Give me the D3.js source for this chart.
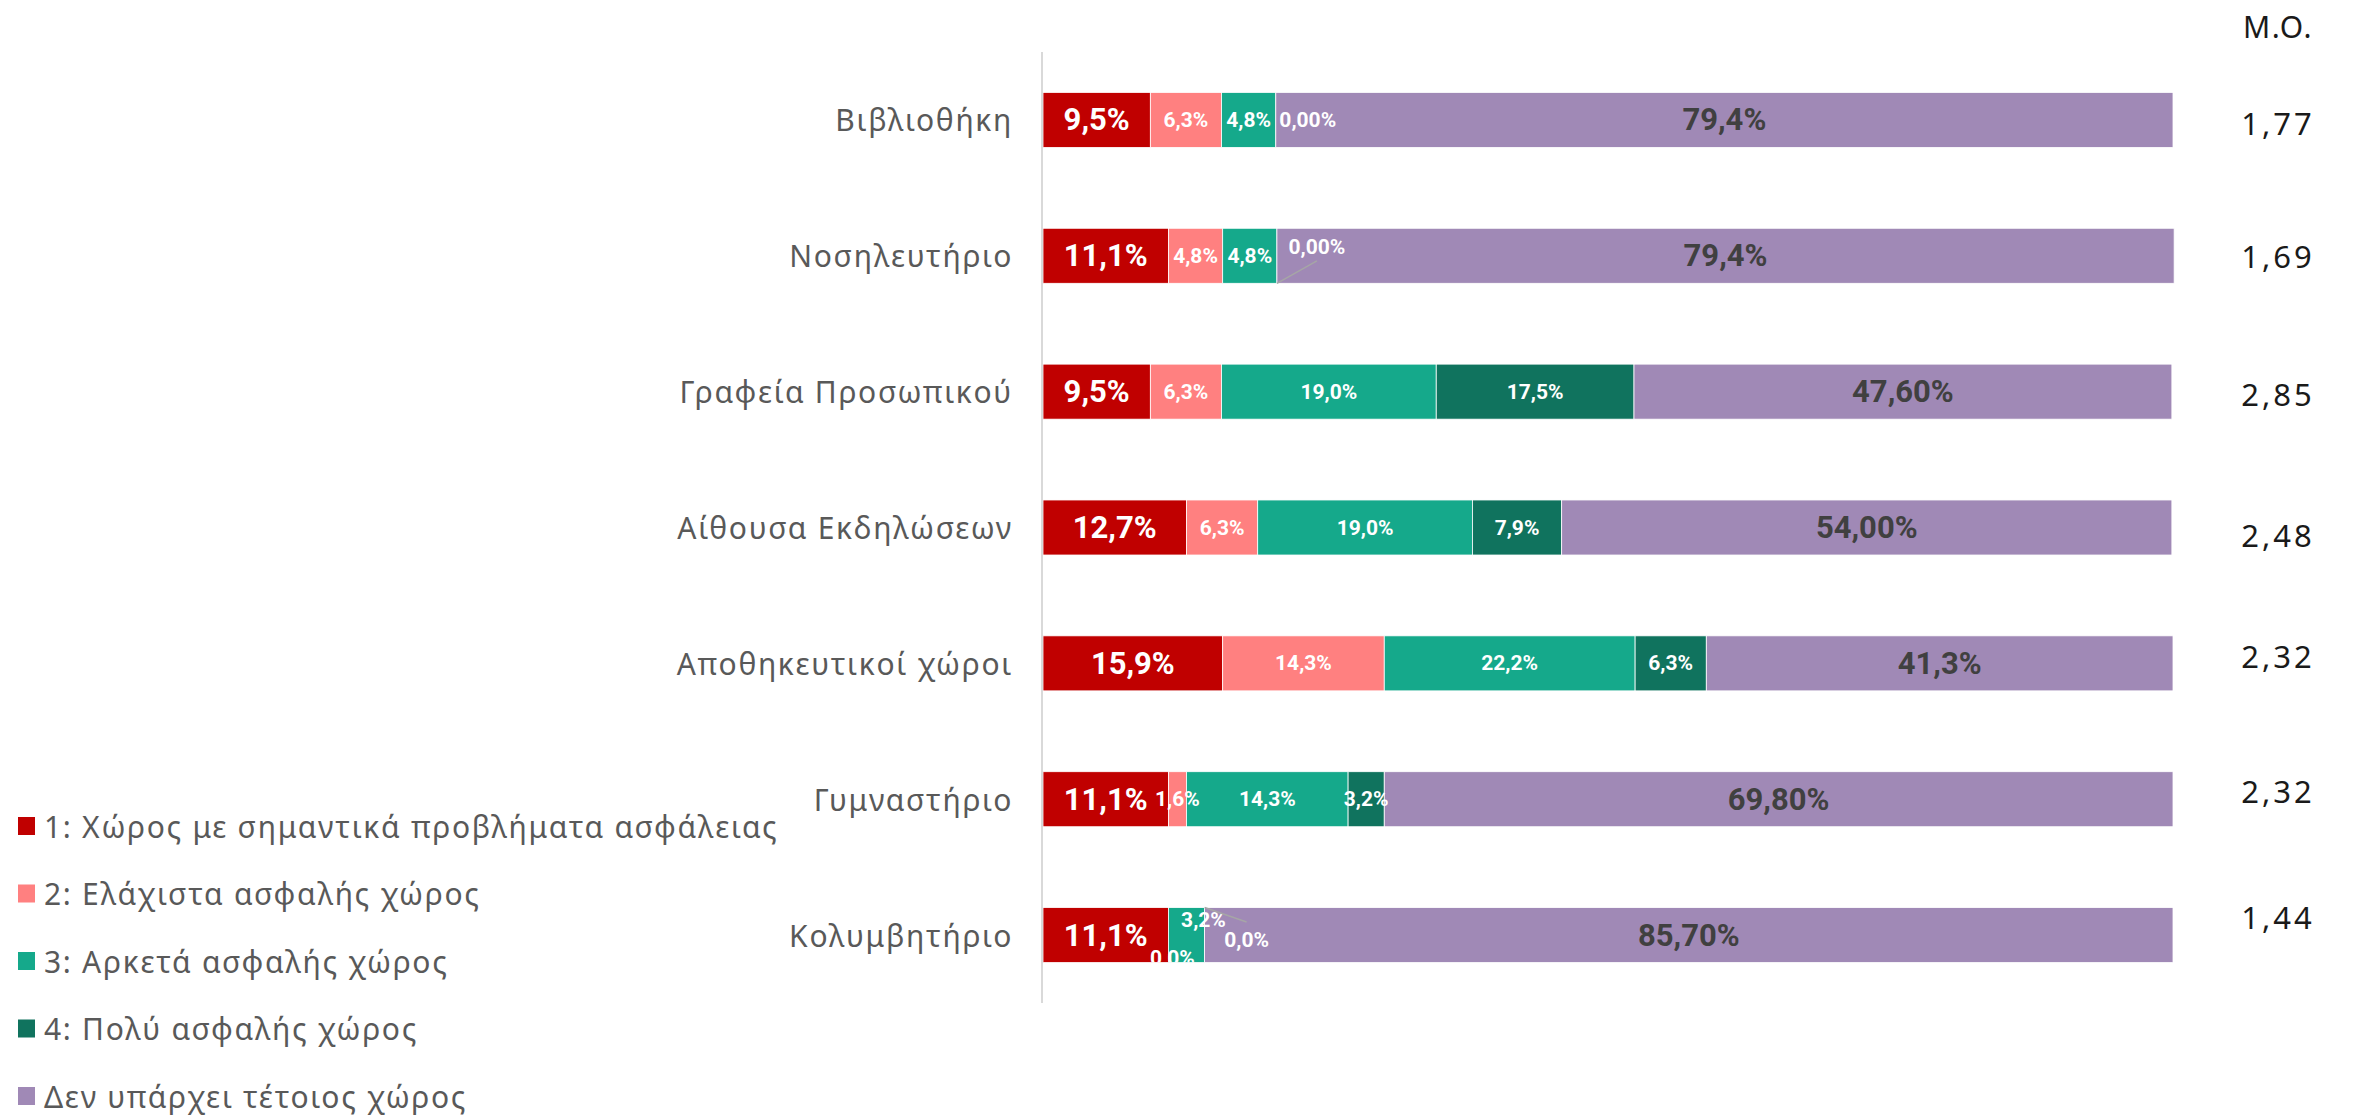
<!DOCTYPE html>
<html>
<head>
<meta charset="utf-8">
<script src="https://cdn.jsdelivr.net/npm/d3@7"></script>
<style>
  body { margin: 0; background: #fff; }
  svg { display: block; }
</style>
</head>
<body>
<svg id="chart" width="2358" height="1118"></svg>
<script>
// categories (top to bottom)
const categories = ['Βιβλιοθήκη', 'Νοσηλευτήριο', 'Γραφεία Προσωπικού', 'Αίθουσα Εκδηλώσεων',
                    'Αποθηκευτικοί χώροι', 'Γυμναστήριο', 'Κολυμβητήριο'];

const seriesNames = ['1: Χώρος με σημαντικά προβλήματα ασφάλειας', '2: Ελάχιστα ασφαλής χώρος',
                     '3: Αρκετά ασφαλής χώρος', '4: Πολύ ασφαλής χώρος', 'Δεν υπάρχει τέτοιος χώρος'];
const seriesColors = ['#c00000', '#ff8080', '#15a98b', '#10735e', '#a089b6'];

// percentages per series
const s1 = [9.5, 11.1, 9.5, 12.7, 15.9, 11.1, 11.1];
const s2 = [6.3, 4.8, 6.3, 6.3, 14.3, 1.6, 0];
const s3 = [4.8, 4.8, 19.0, 19.0, 22.2, 14.3, 3.2];
const s4 = [0, 0, 17.5, 7.9, 6.3, 3.2, 0];
const s5 = [79.4, 79.4, 47.6, 54.0, 41.3, 69.8, 85.7];

// data label texts as printed
const l1 = ['9,5%', '11,1%', '9,5%', '12,7%', '15,9%', '11,1%', '11,1%'];
const l2 = ['6,3%', '4,8%', '6,3%', '6,3%', '14,3%', '1,6%', '0,0%'];
const l3 = ['4,8%', '4,8%', '19,0%', '19,0%', '22,2%', '14,3%', '3,2%'];
const l4 = ['0,00%', '0,00%', '17,5%', '7,9%', '6,3%', '3,2%', '0,0%'];
const l5 = ['79,4%', '79,4%', '47,60%', '54,00%', '41,3%', '69,80%', '85,70%'];

// mean score column (Μ.Ο.)
const meanValues = ['1,77', '1,69', '2,85', '2,48', '2,32', '2,32', '1,44'];

const values = [s1, s2, s3, s4, s5];
const labels = [l1, l2, l3, l4, l5];

// labels that were moved by hand in the original
const nudges = {
  '0-3': {dx: 32, dy: 0},
  '1-3': {dx: 40, dy: -9, leader: 'bottom'},
  '6-1': {dx: 4, dy: 23, clip: true},
  '6-2': {dx: 17, dy: -15},
  '6-3': {dx: 42, dy: 5, leader: 'top'}
};
// the Μ.Ο. text boxes sit a little off the bar centres
const meanShift = [3, 0, 2, 7, -7, -8, -18];

const svg = d3.select('#chart');

const rows = categories.map((c, i) => {
  const r = {cat: c};
  values.forEach((v, k) => r['s' + k] = v[i]);
  return r;
});
const keys = values.map((v, k) => 's' + k);
const stacked = d3.stack().keys(keys)(rows);

const x = d3.scaleLinear().domain([0, 100]).range([1043, 2173]);
const y = d3.scaleBand().domain(categories).range([52, 1003])
  .paddingInner(0.595).paddingOuter(0.2975);
const bh = y.bandwidth();

// bars
svg.append('g').selectAll('g')
  .data(stacked)
  .join('g')
    .attr('fill', (d, k) => seriesColors[k])
  .selectAll('rect')
  .data(d => d)
  .join('rect')
    .attr('x', d => x(d[0]))
    .attr('y', d => y(d.data.cat))
    .attr('width', d => x(d[1]) - x(d[0]))
    .attr('height', bh)
    .attr('stroke', '#fff')
    .attr('stroke-width', 0.8);

// vertical axis line
svg.append('line')
  .attr('x1', x(0) - 1).attr('x2', x(0) - 1)
  .attr('y1', y.range()[0]).attr('y2', y.range()[1])
  .attr('stroke', '#d9d9d9').attr('stroke-width', 2);

// category labels
svg.append('g').selectAll('text')
  .data(categories)
  .join('text')
    .attr('x', x(0) - 30)
    .attr('y', d => y(d) + bh / 2)
    .attr('text-anchor', 'end')
    .attr('dominant-baseline', 'central')
    .attr('font-family', 'Noto Sans, sans-serif')
    .attr('font-size', 30)
    .attr('letter-spacing', 1.7)
    .attr('fill', '#595959')
    .text(d => d);

// clip for the label that is cut at the bar's lower edge
svg.append('clipPath').attr('id', 'lastRowClip')
  .append('rect')
    .attr('x', 0).attr('y', 0)
    .attr('width', 2358).attr('height', y(categories[6]) + bh);

// data labels
const lbl = svg.append('g');
stacked.forEach((ser, k) => {
  ser.forEach((d, i) => {
    const n = nudges[i + '-' + k] || {dx: 0, dy: 0};
    const cx = (x(d[0]) + x(d[1])) / 2 + n.dx;
    const cy = y(d.data.cat) + bh / 2 + n.dy;
    if (n.leader) {
      const x1 = x(d[1]);
      const y1 = n.leader === 'bottom' ? y(d.data.cat) + bh : y(d.data.cat);
      const y2 = n.leader === 'bottom' ? cy + 14 : cy - 18;
      lbl.append('line')
        .attr('x1', x1).attr('y1', y1).attr('x2', cx).attr('y2', y2)
        .attr('stroke', '#a6a6a6').attr('stroke-width', 1.5);
    }
    const size = k === 0 ? 31 : (k === 4 ? 31 : 21);
    const t = lbl.append('text')
      .attr('x', cx).attr('y', cy)
      .attr('text-anchor', 'middle')
      .attr('dominant-baseline', 'central')
      .attr('font-family', 'Roboto, sans-serif')
      .attr('font-weight', 700)
      .attr('font-size', size)
      .attr('fill', k === 4 ? '#404040' : '#fff')
      .text(labels[k][i]);
    if (n.clip) t.attr('clip-path', 'url(#lastRowClip)');
  });
});

// mean column
const mx = 2278;
svg.append('text')
  .attr('x', mx).attr('y', 26)
  .attr('text-anchor', 'middle').attr('dominant-baseline', 'central')
  .attr('font-family', 'Noto Sans, sans-serif').attr('font-size', 30)
  .attr('letter-spacing', 1.5)
  .attr('fill', '#1a1a1a')
  .text('Μ.Ο.');
svg.append('g').selectAll('text')
  .data(meanValues)
  .join('text')
    .attr('x', mx)
    .attr('y', (d, i) => y(categories[i]) + bh / 2 + meanShift[i])
    .attr('text-anchor', 'middle')
    .attr('dominant-baseline', 'central')
    .attr('font-family', 'Noto Sans, sans-serif')
    .attr('font-size', 31)
    .attr('letter-spacing', 3)
    .attr('fill', '#1a1a1a')
    .text(d => d);

// legend
const lg = svg.append('g').attr('transform', 'translate(18,826)');
const item = lg.selectAll('g')
  .data(seriesNames)
  .join('g')
    .attr('transform', (d, i) => `translate(0,${i * 67.5})`);
item.append('rect')
  .attr('x', 0).attr('y', -9).attr('width', 17).attr('height', 18)
  .attr('fill', (d, i) => seriesColors[i]);
item.append('text')
  .attr('x', 26).attr('y', 0)
  .attr('dominant-baseline', 'central')
  .attr('font-family', 'Noto Sans, sans-serif')
  .attr('font-size', 30)
  .attr('letter-spacing', 1.7)
  .attr('fill', '#595959')
  .text(d => d);
</script>
</body>
</html>
